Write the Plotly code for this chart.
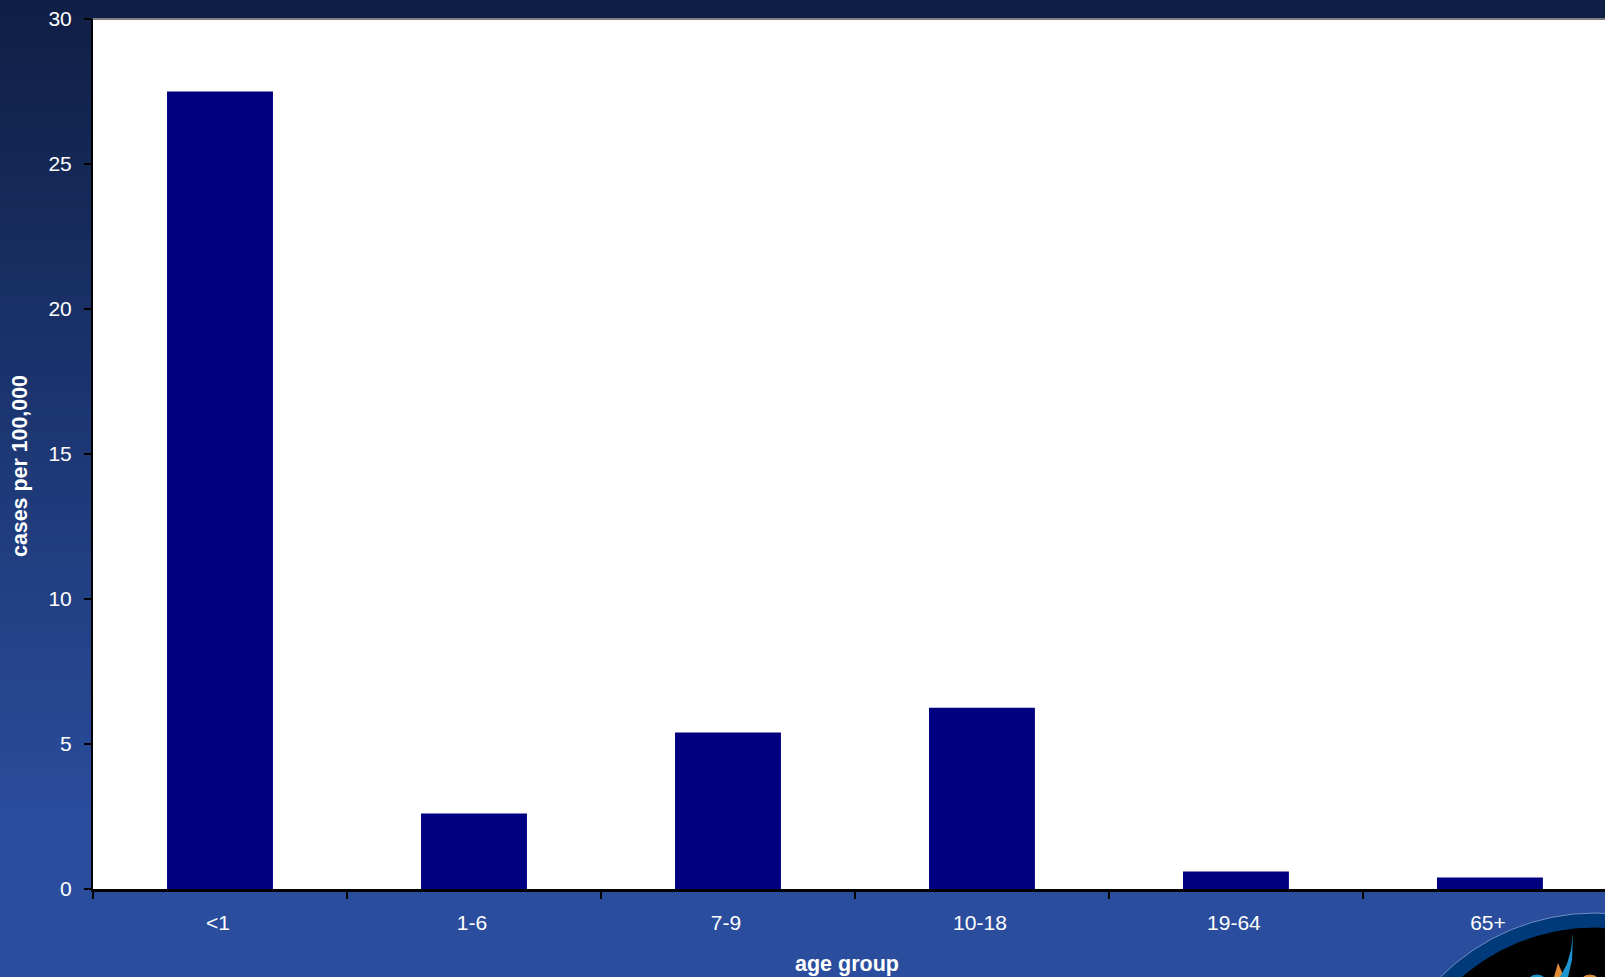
import plotly.graph_objects as go

categories = ["<1", "1-6", "7-9", "10-18", "19-64", "65+"]
cases = [27.5, 2.6, 5.4, 6.25, 0.6, 0.4]
y_ticks = [0, 5, 10, 15, 20, 25, 30]

W, H = 1605, 977
L, T, B = 93, 19, 889
FONT = "Liberation Sans, Arial, sans-serif"

# page pixel -> paper fraction (paper spans the plot area)
def px(x): return (x - L) / (W - L)
def py(y): return (B - y) / (B - T)

TOP_C = (15, 31, 69)
BOT_C = (42, 77, 158)
shapes = []
STEPS = 122
for i in range(STEPS):
    y0, y1 = i * 8, (i + 1) * 8 + 1
    f = min(1.0, y0 / 830)
    c = tuple(round(a + (b - a) * f) for a, b in zip(TOP_C, BOT_C))
    shapes.append(dict(type="rect", xref="paper", yref="paper", layer="below",
                       x0=px(0), x1=1, y0=py(y1), y1=py(y0),
                       fillcolor=f"rgb{c}", line_width=0))
shapes.append(dict(type="rect", xref="paper", yref="paper", layer="below",
                   x0=0, x1=1, y0=0, y1=1, fillcolor="white", line_width=0))
shapes.append(dict(type="line", xref="paper", yref="paper", layer="below",
                   x0=0, x1=1, y0=1, y1=1, line=dict(color="#7f7f7f", width=2)))

def circle(cx, cy, r, fill, line=None):
    return dict(type="circle", xref="paper", yref="paper", layer="below",
                x0=px(cx - r), x1=px(cx + r), y0=py(cy + r), y1=py(cy - r),
                fillcolor=fill, line=dict(color=line or fill, width=1))
shapes.append(circle(1595, 1132, 219, "#003a7a", "#6f8fc4"))
shapes.append(circle(1595, 1132, 204, "#000000"))
shapes.append(circle(1537, 986, 11, "#1a95d2"))
shapes.append(circle(1590, 986, 11, "#e08a35"))

def path(points, fill):
    d = "M " + " L ".join(f"{px(x):.5f},{py(y):.5f}" for x, y in points) + " Z"
    return dict(type="path", xref="paper", yref="paper", layer="below", path=d,
                fillcolor=fill, line_width=0)
shapes.append(path([(1558, 963), (1554, 977), (1564, 977)], "#e08a35"))
shapes.append(path([(1573, 933), (1571, 950), (1567, 964), (1560, 977), (1568, 977), (1572, 960)], "#1a95d2"))

fig = go.Figure(go.Bar(x=categories, y=cases, width=0.417,
                       marker=dict(color="#000080", line_width=0)))

fig.update_layout(
    width=W, height=H,
    margin=dict(l=L, r=0, t=T, b=H - B, pad=0),
    paper_bgcolor="rgba(0,0,0,0)", plot_bgcolor="rgba(0,0,0,0)",
    font=dict(family=FONT, size=21, color="#ffffff"),
    showlegend=False, shapes=shapes,
    annotations=[
        dict(text="<b>age group</b>", xref="paper", yref="paper", x=px(847), y=py(964),
             showarrow=False, xanchor="center", yanchor="middle", font=dict(size=21.5, color="#fff")),
        dict(text="<b>cases per 100,000</b>", xref="paper", yref="paper", x=px(20), y=py(466),
             showarrow=False, textangle=-90, xanchor="center", yanchor="middle",
             font=dict(size=21.4, color="#fff")),
    ],
)
fig.update_xaxes(type="category", categoryorder="array", categoryarray=categories,
                 range=[-0.5, 5.453], tickson="boundaries", ticks="outside", ticklen=7,
                 tickwidth=2, tickcolor="#000000", showline=True, linecolor="#000000", linewidth=2.5,
                 showgrid=False, zeroline=False, tickfont=dict(size=21, color="#fff"), fixedrange=True,
                 ticklabelstandoff=13, ticklabelshift=-2)
fig.update_yaxes(range=[0, 30], tickvals=y_ticks, ticks="outside", ticklen=7, tickwidth=2,
                 tickcolor="#000000", showline=True, linecolor="#000000", linewidth=2,
                 showgrid=False, zeroline=False, tickfont=dict(size=21, color="#fff"), fixedrange=True,
                 ticklabelstandoff=8)

fig.write_html("out.html", config={"displayModeBar": False},
               post_script="document.body.style.margin='0';document.documentElement.style.overflow='hidden';")
